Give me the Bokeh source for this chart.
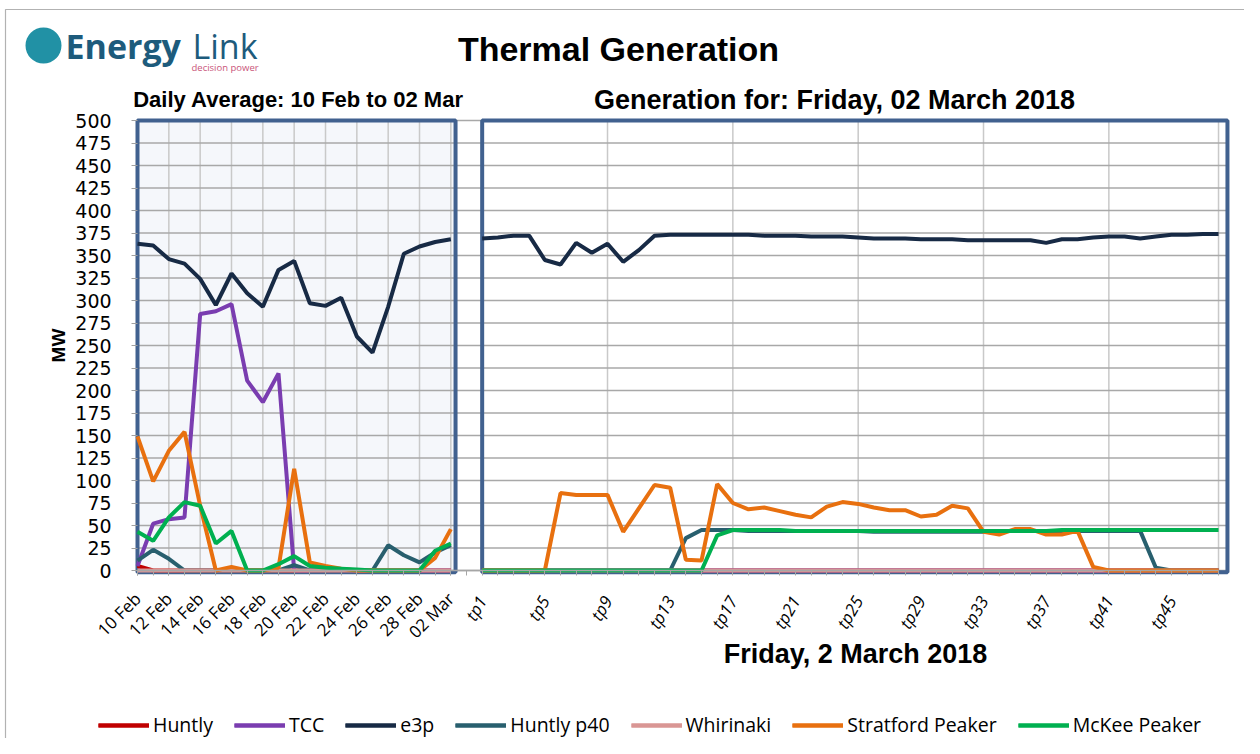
import math
from bokeh.plotting import figure
from bokeh.models import (Range1d, LinearAxis, FixedTicker, Grid, Label, Legend,
                          LegendItem, BoxAnnotation)
from bokeh.embed import file_html
from bokeh.resources import INLINE

# ---------------- data ----------------
dates = ["10 Feb", "11 Feb", "12 Feb", "13 Feb", "14 Feb", "15 Feb", "16 Feb",
         "17 Feb", "18 Feb", "19 Feb", "20 Feb", "21 Feb", "22 Feb", "23 Feb",
         "24 Feb", "25 Feb", "26 Feb", "27 Feb", "28 Feb", "01 Mar", "02 Mar"]
periods = ["tp%d" % k for k in range(1, 49)]
tp_tick_labels = ["tp1", "tp5", "tp9", "tp13", "tp17", "tp21", "tp25",
                  "tp29", "tp33", "tp37", "tp41", "tp45"]
y_ticks = [0, 25, 50, 75, 100, 125, 150, 175, 200, 225, 250, 275, 300, 325,
           350, 375, 400, 425, 450, 475, 500]

series_names = ["Huntly", "TCC", "e3p", "Huntly p40", "Whirinaki",
                "Stratford Peaker", "McKee Peaker"]
series_colors = ["#c00000", "#7a3db0", "#172a45", "#285f6e", "#d99694",
                 "#e8700f", "#00b050"]

# daily averages (MW)
huntly_d = [5, 0, 0, 0, 0, 0, 0, 0, 0, 0, 0, 0, 0, 0, 0, 0, 0, 0, 0, 0, 0]
tcc_d = [5, 52, 57, 59, 285, 288, 296, 211, 187, 219, 0, 0, 0, 0, 0, 0, 0, 0, 0, 0, 0]
e3p_d = [363, 361, 346, 341, 324, 295, 330, 308, 293, 334, 344, 297, 294, 303,
         260, 242, 293, 352, 360, 365, 368]
p40_d = [11, 23, 13, 0, 0, 0, 0, 0, 0, 0, 6, 0, 0, 0, 0, 0, 28, 17, 9, 20, 28]
whir_d = [0, 0, 0, 0, 0, 0, 0, 0, 0, 0, 0, 0, 0, 0, 0, 0, 0, 0, 0, 0, 0]
strat_d = [149, 99, 133, 154, 72, 0, 4, 0, 0, 3, 113, 9, 5, 2, 0, 0, 0, 0, 0, 14, 46]
mckee_d = [43, 33, 59, 76, 72, 30, 44, 0, 0, 7, 16, 5, 3, 2, 1, 0, 0, 0, 0, 22, 30]

# trading periods on 02 March (MW)
huntly_t = [0] * 48
tcc_t = [0] * 48
e3p_t = [369, 370, 372, 372, 345, 340, 364, 353, 363, 343, 356, 372, 373, 373,
         373, 373, 373, 373, 372, 372, 372, 371, 371, 371, 370, 369, 369, 369,
         368, 368, 368, 367, 367, 367, 367, 367, 364, 368, 368, 370, 371, 371,
         369, 371, 373, 373, 374, 374]
p40_t = [0, 0, 0, 0, 0, 0, 0, 0, 0, 0, 0, 0, 0, 36, 45, 45, 45, 44, 44, 44,
         44, 44, 44, 44, 44, 43, 43, 43, 43, 43, 43, 43, 43, 44, 44, 44, 44, 44,
         44, 44, 44, 44, 44, 3, 0, 0, 0, 0]
whir_t = [0] * 48
strat_t = [0, 0, 0, 0, 0, 86, 84, 84, 84, 43, 69, 95, 92, 12, 11, 96, 75, 68,
           70, 66, 62, 59, 71, 76, 74, 70, 67, 67, 60, 62, 72, 69, 43, 40, 46,
           46, 40, 40, 44, 4, 0, 0, 0, 0, 0, 0, 0, 0]
mckee_t = [0, 0, 0, 0, 0, 0, 0, 0, 0, 0, 0, 0, 0, 0, 0, 39, 45, 45, 45, 45,
           44, 44, 44, 44, 44, 44, 44, 44, 44, 44, 44, 44, 44, 44, 44, 44, 44,
           45, 45, 45, 45, 45, 45, 45, 45, 45, 45, 45]

daily = [huntly_d, tcc_d, e3p_d, p40_d, whir_d, strat_d, mckee_d]
tps = [huntly_t, tcc_t, e3p_t, p40_t, whir_t, strat_t, mckee_t]

# ---------------- layout ----------------
W, H = 1244, 738
PX, PY = 15.667, 0.9       # pixels per x unit / per MW
X0, Y0 = 137, 570          # canvas pixel of first day / of 0 MW

n_d = len(dates)
x_days = list(range(n_d))
x_tps = [n_d + 1 + i for i in range(len(periods))]
x_end = x_tps[-1]
box_l_r = x_days[-1] + 0.3
box_r = x_end + 0.57

p = figure(width=W, height=H, output_backend="svg", toolbar_location=None,
           x_range=Range1d(-X0 / PX, (W - X0) / PX),
           y_range=Range1d(-(H - Y0) / PY, Y0 / PY),
           x_axis_location=None, y_axis_location=None, min_border=0)
p.outline_line_color = None
p.background_fill_color = "white"
p.border_fill_color = "white"
for obj in list(p.center):
    if isinstance(obj, Grid):
        obj.visible = False
p.center = [obj for obj in p.center if not isinstance(obj, Grid)]

# panel background
p.quad(left=[x_days[0]], right=[box_l_r], bottom=[-2], top=[y_ticks[-1]],
       fill_color="#f5f7fb", line_color=None, level="image")

# grid lines (limited to the plot panels)
vgrid = x_days[::2] + x_tps[8::8] + [x_tps[-1]]
p.segment(x0=vgrid, y0=[y_ticks[0]] * len(vgrid), x1=vgrid,
          y1=[y_ticks[-1]] * len(vgrid), line_color="#c9c9c9", line_width=1.5,
          level="underlay")
p.segment(x0=[x_days[0]] * len(y_ticks), y0=y_ticks, x1=[box_r] * len(y_ticks),
          y1=y_ticks, line_color="#a8a8a8", line_width=1.5, level="underlay")

# panel frames
p.quad(left=[x_days[0], x_tps[0]], right=[box_l_r, box_r],
       bottom=[-2, -2], top=[y_ticks[-1]] * 2, fill_color=None,
       line_color="#41618f", line_width=4)

# series
items = []
for name, col, dv, tv in zip(series_names, series_colors, daily, tps):
    r1 = p.line(x_days, dv, line_color=col, line_width=4)
    r2 = p.line(x_tps, tv, line_color=col, line_width=4)
    items.append(LegendItem(label=name, renderers=[r1, r2]))

# y axis
yax = LinearAxis(ticker=FixedTicker(ticks=y_ticks, minor_ticks=[]),
                 fixed_location=-0.25, bounds=(y_ticks[0], y_ticks[-1]))
yax.axis_line_color = None
yax.major_tick_line_color = "#a0a0a0"
yax.major_tick_in = 4
yax.major_tick_out = 2
yax.minor_tick_line_color = None
yax.major_label_standoff = 20
yax.major_label_text_font = "DejaVu Sans"
yax.major_label_text_font_size = "19px"
yax.major_label_text_color = "black"
yax.axis_label = "MW"
yax.axis_label_text_font = "Liberation Sans"
yax.axis_label_text_font_size = "19px"
yax.axis_label_text_font_style = "bold"
yax.axis_label_text_color = "black"
yax.axis_label_standoff = 3
p.add_layout(yax, "left")

# x axis: days
ax1 = LinearAxis(ticker=FixedTicker(ticks=x_days[::2], minor_ticks=x_days + [n_d] + x_tps),
                 major_label_overrides={x: d for x, d in zip(x_days[::2], dates[::2])},
                 major_label_orientation=math.pi / 4, fixed_location=0,
                 bounds=(x_days[0], x_end))
ax1.axis_line_color = "#a6a6a6"
ax1.axis_line_width = 1.5
ax1.major_tick_line_color = "#a6a6a6"
ax1.minor_tick_line_color = "#a6a6a6"
ax1.major_tick_in = 0
ax1.major_tick_out = 5
ax1.minor_tick_in = 0
ax1.minor_tick_out = 5
ax1.major_label_standoff = 20
ax1.major_label_text_font = "Open Sans"
ax1.major_label_text_font_size = "17px"
ax1.major_label_text_color = "black"
p.add_layout(ax1, "below")

# x axis: trading periods
tp_pos = [x_tps[periods.index(t)] for t in tp_tick_labels]
ax2 = LinearAxis(ticker=FixedTicker(ticks=tp_pos, minor_ticks=[]),
                 major_label_overrides={x: t for x, t in zip(tp_pos, tp_tick_labels)},
                 major_label_orientation=math.pi / 3, fixed_location=0,
                 bounds=(x_tps[0], x_end))
ax2.axis_line_color = None
ax2.major_tick_line_color = None
ax2.minor_tick_line_color = None
ax2.major_tick_out = 5
ax2.major_label_standoff = 22
ax2.major_label_text_font = "Open Sans"
ax2.major_label_text_font_size = "17px"
ax2.major_label_text_font_style = "italic"
ax2.major_label_text_color = "black"
p.add_layout(ax2, "below")

# legend
legend = Legend(items=items, orientation="horizontal", location=(98, 0),
                glyph_width=51, glyph_height=20, label_standoff=4, spacing=21,
                padding=0, margin=0, label_text_font="Open Sans",
                label_text_font_size="19.5px", label_text_color="black",
                border_line_color=None, background_fill_alpha=0)
p.add_layout(legend)


# texts (canvas pixel positions, y from top)
def lab(text, cx, cy, size, style="normal", font="Liberation Sans",
        color="black", align="center", baseline="middle"):
    p.add_layout(Label(x=cx, y=H - cy, x_units="screen", y_units="screen",
                       text=text, text_font=font, text_font_size="%gpx" % size,
                       text_font_style=style, text_color=color,
                       text_align=align, text_baseline=baseline))


lab("Thermal Generation", 618, 48, 34, "bold")
lab("Daily Average: 10 Feb to 02 Mar", 298, 99, 22, "bold")
lab("Generation for: Friday, 02 March 2018", 834, 99, 27, "bold")
lab("Friday, 2 March 2018", 855, 653, 27, "bold")
lab("Energy", 65, 45, 34, "bold", "Open Sans", "#1d5b7c", "left", "middle")
lab("Link", 192, 45, 34, "normal", "Open Sans", "#1d5b7c", "left", "middle")
lab("decision power", 191, 67, 9.5, "normal", "Open Sans", "#c9557a", "left", "middle")

# logo disc
p.add_layout(BoxAnnotation(left=25, right=61, top=H - 27, bottom=H - 63,
                           left_units="screen", right_units="screen",
                           top_units="screen", bottom_units="screen",
                           fill_color="#2191a5", fill_alpha=1, line_color=None,
                           border_radius=18, level="annotation"))

# outer frame
p.add_layout(BoxAnnotation(left=5, right=W + 20, top=H - 9, bottom=-20,
                           left_units="screen", right_units="screen",
                           top_units="screen", bottom_units="screen",
                           fill_color=None, fill_alpha=0, line_color="black",
                           line_width=1.2, level="annotation"))

open("out.html", "w").write(file_html(p, INLINE))
